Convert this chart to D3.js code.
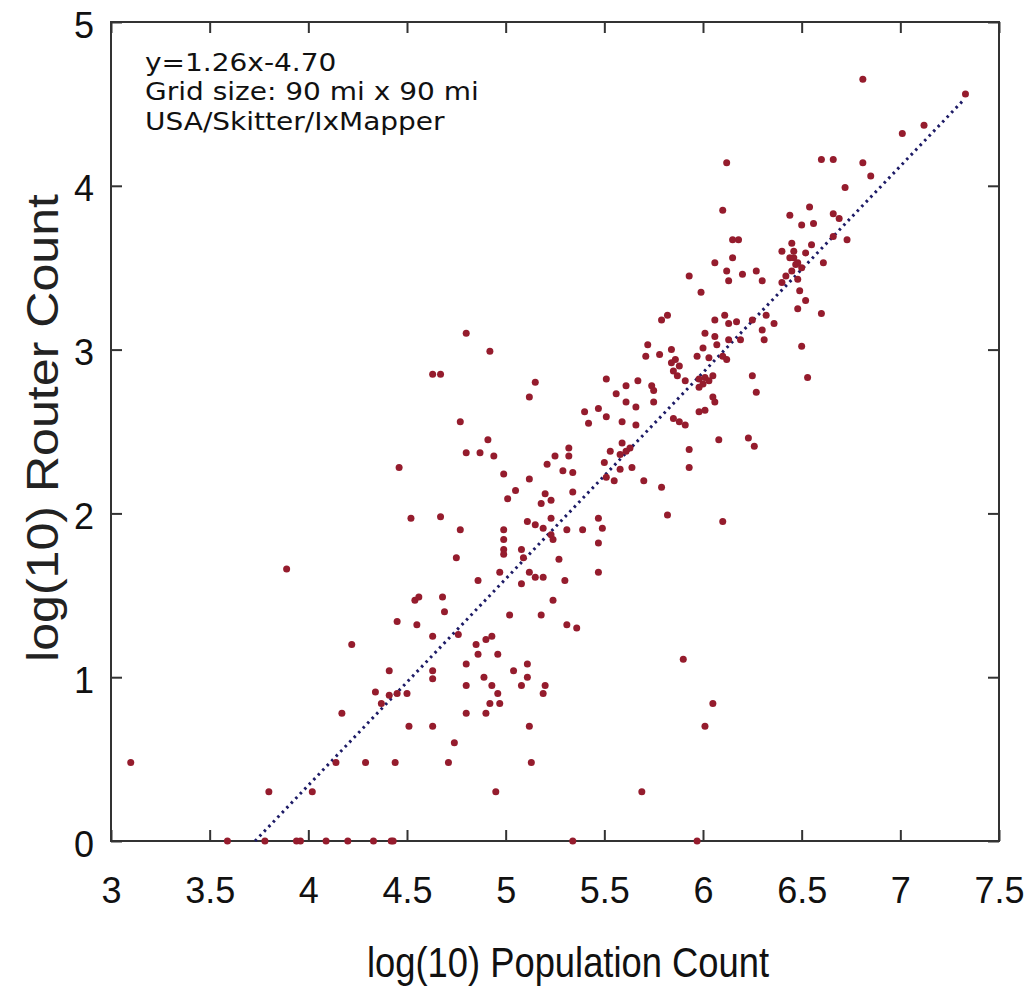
<!DOCTYPE html>
<html>
<head>
<meta charset="utf-8">
<script src="https://cdn.jsdelivr.net/npm/d3@7/dist/d3.min.js"></script>
<style>
    body { margin: 0; background: #fff; }
    svg { display: block; }
</style>
</head>
<body>
<svg id="chart" width="1027" height="990"></svg>
<script>
// log(10) population count per grid cell
var popLog = [
    3.10, 3.80, 4.02, 4.14, 4.29, 4.44, 4.17, 4.22, 4.41, 4.45, 4.34, 4.41, 4.45, 4.37, 3.89,
    3.59, 3.78, 3.94, 3.96, 4.09, 4.20, 4.33, 4.42, 4.43, 5.34, 5.97,
    4.80, 4.92, 4.63, 4.67, 5.15, 5.12, 5.51, 5.40, 5.42, 5.47, 5.51, 4.77, 4.91, 4.80, 4.87,
    4.94, 4.46, 5.32, 5.32, 5.25, 5.21, 5.29, 5.34, 4.99, 5.12, 5.05, 5.01, 5.20, 5.23, 5.18,
    5.34, 4.52, 4.67, 4.77, 4.75, 4.99, 4.99, 4.99, 4.99, 5.11, 5.15, 5.19, 5.23, 5.23, 5.24,
    5.31, 5.39, 5.47, 5.49, 5.47, 5.08, 5.09, 5.27, 5.47, 4.97, 5.12, 5.15, 5.19, 4.86,
    5.08, 5.30, 4.54, 4.56, 4.68, 4.69, 4.55, 5.24, 5.02, 5.18, 5.31, 5.36, 4.63, 4.76, 4.85,
    4.90, 4.93, 4.86, 4.96, 4.63, 4.63, 4.80, 5.04, 5.11, 5.11, 4.89, 4.80, 4.93, 4.96, 5.08,
    5.20, 5.19, 4.92, 4.97, 4.50, 4.80, 4.90, 4.51, 4.63, 5.12, 4.74, 4.71, 5.13, 4.95,
    6.15, 6.06, 6.12, 6.13, 6.20, 6.27, 6.30, 5.93, 5.99, 6.44, 6.47, 6.50, 6.45, 6.42, 6.40,
    6.48, 6.49, 6.52, 6.48, 5.79, 5.82, 6.06, 6.11, 6.13, 6.17, 6.25, 6.32, 6.36, 6.30, 6.31,
    6.01, 6.06, 6.07, 6.13, 6.19, 5.72, 5.71, 5.78, 5.84, 6.00, 5.97, 6.03, 6.10, 6.12, 5.84,
    5.86, 5.88, 5.85, 5.87, 6.50, 6.53, 5.98, 6.01, 6.05, 6.03, 6.00, 5.98, 5.91, 6.25, 6.27,
    6.05, 6.06, 5.98, 6.01, 5.61, 5.67, 5.74, 5.75, 5.56, 5.61, 5.66, 5.75, 5.59, 5.66, 5.85,
    5.88, 5.91, 5.59, 5.63, 5.61, 5.58, 5.53, 5.50, 5.51, 5.55, 5.58, 5.64, 5.70, 5.79, 5.93,
    5.93, 6.08, 6.23, 6.26, 5.82, 6.10,
    5.90, 6.05, 6.01, 5.69,
    6.81, 7.33, 7.01, 7.12, 6.12, 6.60, 6.66, 6.81, 6.85, 6.72, 6.10, 6.54, 6.44, 6.56, 6.50,
    6.66, 6.69, 6.66, 6.73, 6.15, 6.18, 6.40, 6.45, 6.46, 6.46, 6.48, 6.52, 6.55, 6.61, 6.60
];

// log(10) router count, same order as popLog
var routerLog = [
    0.48, 0.30, 0.30, 0.48, 0.48, 0.48, 0.78, 1.20, 1.04, 1.34, 0.91, 0.89, 0.90, 0.84, 1.66,
    0, 0, 0, 0, 0, 0, 0, 0, 0, 0, 0,
    3.10, 2.99, 2.85, 2.85, 2.80, 2.71, 2.82, 2.62, 2.55, 2.64, 2.59, 2.56, 2.45, 2.37, 2.37,
    2.35, 2.28, 2.40, 2.35, 2.35, 2.30, 2.26, 2.25, 2.24, 2.21, 2.14, 2.09, 2.12, 2.08, 2.06,
    2.13, 1.97, 1.98, 1.90, 1.73, 1.90, 1.84, 1.78, 1.75, 1.95, 1.93, 1.91, 1.97, 1.87, 1.84,
    1.90, 1.90, 1.97, 1.91, 1.82, 1.78, 1.73, 1.72, 1.64, 1.64, 1.64, 1.61, 1.61, 1.59,
    1.57, 1.59, 1.47, 1.49, 1.49, 1.40, 1.32, 1.47, 1.38, 1.38, 1.32, 1.30, 1.25, 1.26, 1.20,
    1.23, 1.25, 1.14, 1.14, 1.04, 0.99, 1.08, 1.04, 1.08, 1.00, 1.00, 0.95, 0.95, 0.90, 0.95,
    0.95, 0.90, 0.84, 0.84, 0.90, 0.78, 0.78, 0.70, 0.70, 0.70, 0.60, 0.48, 0.48, 0.30,
    3.56, 3.53, 3.48, 3.42, 3.46, 3.48, 3.42, 3.45, 3.35, 3.56, 3.52, 3.50, 3.48, 3.45, 3.41,
    3.43, 3.36, 3.30, 3.25, 3.18, 3.21, 3.18, 3.21, 3.16, 3.17, 3.18, 3.21, 3.16, 3.12, 3.06,
    3.10, 3.08, 3.03, 3.06, 3.06, 3.03, 2.96, 2.97, 3.00, 3.01, 2.96, 2.95, 2.96, 2.94, 2.92,
    2.94, 2.90, 2.87, 2.84, 3.02, 2.83, 2.82, 2.83, 2.84, 2.81, 2.79, 2.77, 2.81, 2.84, 2.74,
    2.71, 2.68, 2.62, 2.63, 2.78, 2.81, 2.78, 2.75, 2.73, 2.68, 2.65, 2.68, 2.56, 2.54, 2.58,
    2.56, 2.54, 2.43, 2.40, 2.38, 2.36, 2.38, 2.31, 2.22, 2.20, 2.27, 2.28, 2.20, 2.16, 2.39,
    2.28, 2.45, 2.46, 2.41, 1.99, 1.95,
    1.11, 0.84, 0.70, 0.30,
    4.65, 4.56, 4.32, 4.37, 4.14, 4.16, 4.16, 4.14, 4.06, 3.99, 3.85, 3.87, 3.82, 3.77, 3.76,
    3.83, 3.80, 3.69, 3.67, 3.67, 3.67, 3.60, 3.65, 3.60, 3.56, 3.53, 3.59, 3.64, 3.53, 3.22
];

var xTicks = [3, 3.5, 4, 4.5, 5, 5.5, 6, 6.5, 7, 7.5];
var yTicks = [0, 1, 2, 3, 4, 5];

// least squares fit shown on the chart
var fitSlope = 1.26;
var fitIntercept = -4.70;
var fitRange = [3.73, 7.32];

var infoLines = ["y=1.26x-4.70", "Grid size: 90 mi x 90 mi", "USA/Skitter/IxMapper"];

var plotLeft = 111, plotRight = 999, plotTop = 22, plotBottom = 841;

var svg = d3.select("#chart");

var x = d3.scaleLinear().domain([3, 7.5]).range([plotLeft, plotRight]);
var y = d3.scaleLinear().domain([0, 5]).range([plotBottom, plotTop]);

var points = popLog.map(function (p, i) {
    return {x: p, y: routerLog[i]};
});

//坐标轴
var axisFont = "'Liberation Sans', Arial, Helvetica, sans-serif";

var bottomAxis = svg.append("g")
    .attr("transform", "translate(0," + plotBottom + ")")
    .call(d3.axisBottom(x).tickValues(xTicks).tickSize(-11).tickSizeOuter(0).tickPadding(36)
        .tickFormat(function (d) { return d; }));

var leftAxis = svg.append("g")
    .attr("transform", "translate(" + plotLeft + ",0)")
    .call(d3.axisLeft(y).tickValues(yTicks).tickSize(-11).tickSizeOuter(0).tickPadding(17)
        .tickFormat(function (d) { return d; }));

svg.append("g")
    .attr("transform", "translate(0," + plotTop + ")")
    .call(d3.axisTop(x).tickValues(xTicks).tickSize(-11).tickSizeOuter(0).tickFormat(""));

svg.append("g")
    .attr("transform", "translate(" + plotRight + ",0)")
    .call(d3.axisRight(y).tickValues(yTicks).tickSize(-11).tickSizeOuter(0).tickFormat(""));

svg.selectAll(".domain").remove();
svg.selectAll(".tick line")
    .attr("stroke", "#333")
    .attr("stroke-width", 2);

bottomAxis.selectAll("text")
    .style("font-family", axisFont)
    .style("font-size", "36px")
    .attr("fill", "#111");

leftAxis.selectAll("text")
    .style("font-family", axisFont)
    .style("font-size", "36px")
    .attr("dy", "0.42em")
    .attr("fill", "#111");

// frame
svg.append("rect")
    .attr("x", plotLeft)
    .attr("y", plotTop)
    .attr("width", plotRight - plotLeft)
    .attr("height", plotBottom - plotTop)
    .attr("fill", "none")
    .attr("stroke", "#333")
    .attr("stroke-width", 2);

//拟合线
svg.append("line")
    .attr("x1", x(fitRange[0]))
    .attr("y1", y(fitSlope * fitRange[0] + fitIntercept))
    .attr("x2", x(fitRange[1]))
    .attr("y2", y(fitSlope * fitRange[1] + fitIntercept))
    .attr("stroke", "#1d1b66")
    .attr("stroke-width", 3)
    .attr("stroke-dasharray", "2.5,4");

//散点
svg.append("g")
    .selectAll("circle")
    .data(points)
    .enter()
    .append("circle")
    .attr("cx", function (d) { return x(d.x); })
    .attr("cy", function (d) { return y(d.y); })
    .attr("r", 3.5)
    .attr("fill", "#951c2d");

// info text, slightly widened like the original
svg.append("g")
    .attr("transform", "translate(145,0) scale(1.12,1)")
    .selectAll("text")
    .data(infoLines)
    .enter()
    .append("text")
    .attr("x", 0)
    .attr("y", function (d, i) { return 71 + i * 29.5; })
    .style("font-family", "'DejaVu Sans', Verdana, sans-serif")
    .style("font-size", "25px")
    .attr("fill", "#111")
    .text(function (d) { return d; });

// axis titles
svg.append("text")
    .attr("x", 568)
    .attr("y", 977)
    .attr("text-anchor", "middle")
    .attr("textLength", 402)
    .attr("lengthAdjust", "spacingAndGlyphs")
    .style("font-family", axisFont)
    .style("font-size", "42px")
    .attr("fill", "#111")
    .text("log(10) Population Count");

svg.append("text")
    .attr("transform", "translate(58,428) rotate(-90)")
    .attr("text-anchor", "middle")
    .attr("textLength", 468)
    .attr("lengthAdjust", "spacingAndGlyphs")
    .style("font-family", axisFont)
    .style("font-size", "44px")
    .attr("fill", "#222")
    .text("log(10) Router Count");
</script>
</body>
</html>
